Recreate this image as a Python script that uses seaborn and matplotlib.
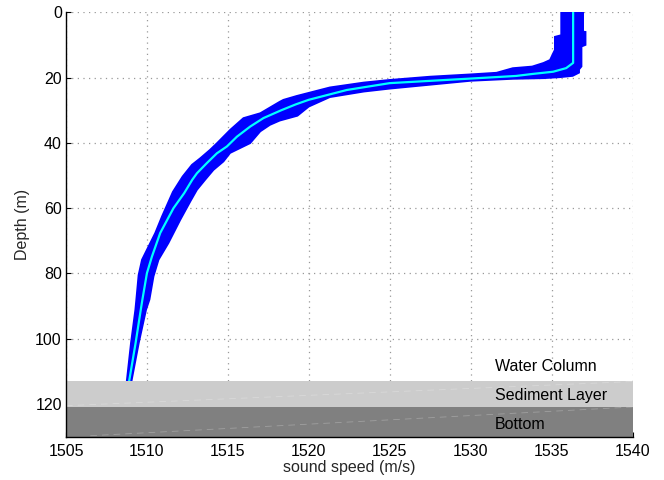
import numpy as np
import matplotlib
matplotlib.use("Agg")
import matplotlib.pyplot as plt
import seaborn as sns

# ---- data ----
# mean sound-speed profile (cyan)
mean_depth = [0, 15.5, 17.1, 18.2, 18.9, 19.5, 20.3, 21.7, 23.8, 26.8, 28.2, 30.0,
              32.4, 35.0, 38.1, 41.1, 43.2, 46.2, 49.3, 51.3, 55.4, 60.0, 67.6,
              74.8, 79.9, 88.0, 91.1, 101.3, 113.0]
mean_speed = [1536.33, 1536.33, 1535.9, 1535.1, 1533.8, 1532.8, 1530.0, 1525.0,
              1522.35, 1520.0, 1519.2, 1518.3, 1517.2, 1516.38, 1515.56, 1514.94,
              1514.32, 1513.70, 1513.09, 1512.8, 1512.3, 1511.64, 1510.82,
              1510.31, 1510.0, 1509.72, 1509.62, 1509.3, 1508.9]

# envelope of all measured profiles (blue band): left / upper edge
left_depth = [0, 7, 7.5, 11.5, 12.5, 14.6, 15.5, 16.6, 17.1, 18.5, 19.0, 19.7,
              20.7, 21.5, 23.0, 25.6, 26.8, 27.4, 30.9, 32.4, 36.0, 40.1, 42.1,
              44.7, 46.7, 50.3, 55.0, 62.5, 67.6, 72.7, 75.8, 80.5, 88.0, 91.1,
              101.3, 113.0]
left_speed = [1535.59, 1535.59, 1535.2, 1535.2, 1535.1, 1534.9, 1534.5, 1533.8,
              1532.6, 1531.6, 1530.0, 1527.5, 1525.0, 1523.4, 1521.3, 1519.26,
              1518.43, 1518.2, 1517.0, 1515.96, 1515.14, 1514.32, 1513.9,
              1513.29, 1512.78, 1512.2, 1511.6, 1510.93, 1510.51, 1510.0,
              1509.69, 1509.48, 1509.34, 1509.28, 1509.01, 1508.75]
# right / lower edge
right_depth = [0, 5.9, 6.0, 10.0, 10.5, 16.6, 17.5, 18.5, 19.5, 19.9, 20.2, 20.4,
               21.0, 22.2, 23.4, 24.3, 26.0, 28.9, 31.7, 33.2, 34.5, 36.5, 40.1,
               43.1, 45.7, 48.3, 51.3, 54.4, 57.8, 63.6, 70.7, 75.8, 80.9, 88.0,
               91.1, 101.3, 113.0]
right_speed = [1536.95, 1536.95, 1537.1, 1537.1, 1536.85, 1536.85, 1536.7, 1536.7,
               1536.3, 1535.5, 1534.5, 1532.6, 1530.0, 1527.5, 1525.0, 1523.4,
               1521.3, 1520.0, 1519.3, 1518.2, 1517.6, 1517.0, 1516.38, 1515.14,
               1514.73, 1514.11, 1513.6, 1513.09, 1512.7, 1512.06, 1511.33,
               1510.72, 1510.41, 1510.16, 1509.95, 1509.5, 1509.05]

# layers
layer_names = ["Water Column", "Sediment Layer", "Bottom"]
layer_label_depth = [108.5, 117.4, 126.3]
sediment_top, sediment_bottom, bottom_end = 113.0, 120.8, 130.0

x_ticks = [1505, 1510, 1515, 1520, 1525, 1530, 1535, 1540]
y_ticks = [0, 20, 40, 60, 80, 100, 120]

# ---- style ----
sns.set_style("white")
plt.rcParams['font.family'] = ['Liberation Sans', 'DejaVu Sans']
plt.rcParams['font.size'] = 11.5

fig = plt.figure(figsize=(6.64, 4.80), dpi=100)
ax = fig.add_axes([0.0994, 0.0902, 0.8532, 0.8842])

ax.set_xlim(1505, 1540)
ax.set_ylim(130, 0)

# band of profiles
poly_x = np.concatenate([left_speed, right_speed[::-1]])
poly_y = np.concatenate([left_depth, right_depth[::-1]])
ax.fill(poly_x, poly_y, color='#0000ff', lw=1.2, ec='#0000ff', zorder=3)

# mean profile
sns.lineplot(x=mean_speed, y=mean_depth, sort=False, estimator=None,
             color='#00ffff', lw=1.6, ax=ax, zorder=4)

# sediment and bottom layers
ax.fill_between([1505, 1540], sediment_top, sediment_bottom, color='#cccccc',
                lw=0, zorder=5)
ax.fill_between([1505, 1540], sediment_bottom, bottom_end, color='#808080',
                lw=0, zorder=5)
ax.plot([1505, 1540], [sediment_bottom - 0.3, sediment_top + 0.1], color='white',
        lw=0.6, alpha=0.25, ls=(0, (8, 6)), zorder=6)
ax.plot([1506.5, 1540], [bottom_end - 0.3, sediment_bottom + 0.1], color='white',
        lw=0.6, alpha=0.25, ls=(0, (8, 6)), zorder=6)

for name, d in zip(layer_names, layer_label_depth):
    ax.text(1531.5, d, name, ha='left', va='center', fontsize=11.5,
            color='black', zorder=7)

# axes cosmetics
ax.set_xticks(x_ticks)
ax.set_yticks(y_ticks)
ax.grid(True, color='#999999', ls=(0, (1, 3.5)), lw=0.9)
ax.set_axisbelow(True)
for s in ['top', 'right']:
    ax.spines[s].set_visible(False)
for s in ['left', 'bottom']:
    ax.spines[s].set_color('black')
    ax.spines[s].set_linewidth(1.0)
    ax.spines[s].set_zorder(8)
ax.tick_params(direction='in', length=3.5, width=0.8, colors='black',
               labelsize=11.5, left=True, bottom=True)
ax.tick_params(axis='x', pad=5)
ax.tick_params(axis='y', pad=3)
ax.set_xlabel('sound speed (m/s)', fontsize=11.5, labelpad=1)
ax.set_ylabel('Depth (m)', fontsize=11.5, labelpad=4)

fig.savefig('out.png', dpi=100)
